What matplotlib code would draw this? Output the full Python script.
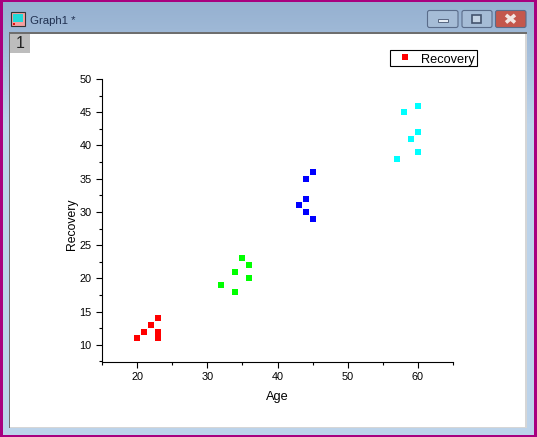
import numpy as np
import matplotlib
matplotlib.use('Agg')
import matplotlib.pyplot as plt
from matplotlib.patches import Rectangle, FancyBboxPatch
from matplotlib.lines import Line2D
from matplotlib.ticker import MultipleLocator

plt.rcParams['font.family'] = ['Liberation Sans', 'DejaVu Sans']

# data, one group per colour
red_age = [20, 21, 22, 23, 23, 23]
red_rec = [11, 12, 13, 14, 12, 11]
green_age = [32, 34, 34, 35, 36, 36]
green_rec = [19, 21, 18, 23, 22, 20]
blue_age = [43, 44, 44, 44, 45, 45]
blue_rec = [31, 35, 32, 30, 36, 29]
cyan_age = [57, 58, 59, 60, 60, 60]
cyan_rec = [38, 45, 41, 46, 42, 39]

W = 537
H = 437
fig = plt.figure(figsize=(W / 100, H / 100), dpi=100)

# window frame, drawn in pixel coordinates
bg = fig.add_axes([0, 0, 1, 1], zorder=0)
bg.set_xlim(0, W)
bg.set_ylim(H, 0)
bg.axis('off')

grad = np.linspace(0, 1, 120).reshape(-1, 1)
cmap = matplotlib.colors.LinearSegmentedColormap.from_list('title', ['#95b0d0', '#bcd3ea'])
bg.imshow(grad, extent=[0, W, 124, 0], cmap=cmap, aspect='auto', zorder=1)
bg.add_patch(Rectangle((0, 124), W, H - 124, fc='#bcd3ea', ec='none', zorder=1))
bg.set_xlim(0, W)
bg.set_ylim(H, 0)

# magenta outer border
border = '#a8007f'
bg.add_patch(Rectangle((0, 0), W, 2, fc=border, ec='none', zorder=2))
bg.add_patch(Rectangle((0, H - 2.5), W, 2.5, fc=border, ec='none', zorder=2))
bg.add_patch(Rectangle((0, 0), 2.5, H, fc=border, ec='none', zorder=2))
bg.add_patch(Rectangle((W - 3, 0), 3, H, fc=border, ec='none', zorder=2))

# client area with sunken edge
bg.add_patch(Rectangle((9, 32), 518, 396, fc='#d6d6d6', ec='none', zorder=2))
bg.add_patch(Rectangle((9, 32), 518, 1.5, fc='#6e6e6e', ec='none', zorder=3))
bg.add_patch(Rectangle((9, 32), 1.2, 396, fc='#6e6e6e', ec='none', zorder=3))
bg.add_patch(Rectangle((10.2, 33.5), 515, 393, fc='white', ec='none', zorder=3))

# layer tab
bg.add_patch(Rectangle((10.2, 33.5), 20, 19.5, fc='#bdbdbd', ec='none', zorder=4))
bg.text(20.5, 43.5, '1', fontsize=11.5, ha='center', va='center', color='#222222', zorder=5)

# graph icon and title
bg.add_patch(Rectangle((10.5, 11.5), 14.5, 14.5, fc='#f4a0a0', ec='#333333', lw=0.8, zorder=4))
bg.add_patch(Rectangle((13, 14), 10, 8, fc='#20d8d8', ec='none', zorder=5))
bg.add_patch(Rectangle((12.5, 22.5), 2, 2, fc='#e01010', ec='none', zorder=5))
bg.text(30, 20.5, 'Graph1 *', fontsize=8.2, ha='left', va='center', color='#1f2f4f', zorder=5)

# window buttons
for x0, x1, col in [(427.5, 458, '#a5bcd6'), (462, 492, '#a5bcd6'), (495.5, 526, '#c4574c')]:
    bg.add_patch(FancyBboxPatch((x0, 10.5), x1 - x0, 17, boxstyle='round,pad=0,rounding_size=2',
                                fc=col, ec='#5a6c8a', lw=0.8, zorder=4))
bg.add_patch(Rectangle((437.5, 18.5), 10, 3.5, fc='#e6edf5', ec='#55657f', lw=0.7, zorder=5))
bg.add_patch(Rectangle((472, 15), 9, 7.5, fc='#c4d3e4', ec='#44546e', lw=1.2, zorder=5))
bg.plot([506, 515], [15, 22.5], color='#f2e6e2', lw=2.6, zorder=5, solid_capstyle='butt')
bg.plot([506, 515], [22.5, 15], color='#f2e6e2', lw=2.6, zorder=5, solid_capstyle='butt')

# the plot itself
left = 102
right = 453
top = 79
bottom = 361.5
ax = fig.add_axes([left / W, 1 - bottom / H, (right - left) / W, (bottom - top) / H], zorder=2)
ax.patch.set_alpha(0)

ms = 5.0
ax.plot(red_age, red_rec, 's', color='#ff0000', ms=ms, mew=0, label='Recovery')
ax.plot(green_age, green_rec, 's', color='#00ff00', ms=ms, mew=0)
ax.plot(blue_age, blue_rec, 's', color='#0000ff', ms=ms, mew=0)
ax.plot(cyan_age, cyan_rec, 's', color='#00ffff', ms=ms, mew=0)

ax.set_xlim(15, 65)
ax.set_ylim(7.5, 50)
ax.spines['top'].set_visible(False)
ax.spines['right'].set_visible(False)
ax.spines['left'].set_linewidth(0.8)
ax.spines['bottom'].set_linewidth(0.8)

ax.xaxis.set_major_locator(MultipleLocator(10))
ax.xaxis.set_minor_locator(MultipleLocator(5))
ax.yaxis.set_major_locator(MultipleLocator(5))
ax.yaxis.set_minor_locator(MultipleLocator(2.5))
ax.set_yticks(np.arange(10, 51, 5))
ax.tick_params(which='major', direction='out', length=4, width=0.8, labelsize=7.8, pad=3.5)
ax.tick_params(which='minor', direction='out', length=2.2, width=0.8)

ax.set_xlabel('Age', fontsize=9.2)
ax.set_ylabel('Recovery', fontsize=8.8)
ax.xaxis.set_label_coords(0.4986, -0.104)
ax.yaxis.set_label_coords(-0.067, 0.487)

handle = Line2D([], [], ls='none', marker='s', color='#ff0000', ms=ms, mew=0)
fs = 9.2
px = fs * 100 / 72
leg = ax.legend([handle], ['Recovery'], loc='upper left', fontsize=fs,
                bbox_to_anchor=((390 - left) / (right - left), 1 + (79 - 50) / (bottom - top)),
                borderaxespad=0, fancybox=False, framealpha=1, edgecolor='black',
                borderpad=2 / px, handlelength=26 / px, handletextpad=3 / px)
leg.get_frame().set_linewidth(0.8)
leg.get_texts()[0].set_y(-1.5)

fig.savefig('out.png', dpi=100)
